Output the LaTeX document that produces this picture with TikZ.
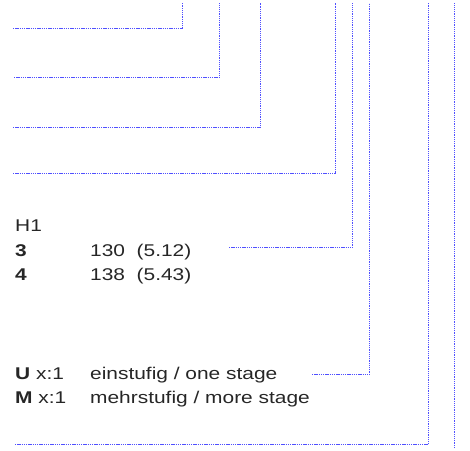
\documentclass[tikz,border=0pt]{standalone}
\usepackage{fontspec}
\setmainfont{Liberation Sans}[FakeStretch=1.23]
\begin{document}
\begin{tikzpicture}[x=1pt,y=-1pt,
  lead/.style={draw={rgb,255:red,80;green,80;blue,255}, line width=1.1pt, dash pattern=on 1.3pt off 0.9pt},
  lbl/.style={anchor=base west, inner sep=0pt, font=\fontsize{17}{20}\selectfont, text=black!85}]
\useasboundingbox (0,0) rectangle (470,450);
% texts
\node[lbl] (h1) at (15,231.5) {H1};
\node[lbl] (n3) at (15,256) {\textbf{3}};
\node[lbl] (v3) at (90,256) {130\ \ (5.12)};
\node[lbl] (n4) at (15,280.5) {\textbf{4}};
\node[lbl] (v4) at (90,280.5) {138\ \ (5.43)};
\node[lbl] (u) at (15,379) {\textbf{U} x:1};
\node[lbl] (ut) at (90,379) {einstufig / one stage};
\node[lbl] (m) at (15,403) {\textbf{M} x:1};
\node[lbl] (mt) at (90,403) {mehrstufig / more stage};
% coordinates
\coordinate (a1) at (13,28.5);  \coordinate (b1) at (182.5,28.5); \coordinate (c1) at (182.5,3);
\coordinate (a2) at (14,77.5);  \coordinate (b2) at (219.5,77.5); \coordinate (c2) at (219.5,3);
\coordinate (a3) at (13,127.5); \coordinate (b3) at (260.5,127.5);\coordinate (c3) at (260.5,3);
\coordinate (a4) at (13,173.5); \coordinate (b4) at (335.5,173.5);\coordinate (c4) at (335.5,3);
\coordinate (a5) at (229,247.5);\coordinate (b5) at (352.5,247.5);\coordinate (c5) at (352.5,3);
\coordinate (a6) at (312,374.5);\coordinate (b6) at (369.5,374.5);\coordinate (c6) at (369.5,3);
\coordinate (a7) at (15,444.5); \coordinate (b7) at (428.5,444.5);\coordinate (c7) at (428.5,3);
\coordinate (a8) at (454.5,448); \coordinate (c8) at (454.5,3);
% leader lines
\draw[lead] (a1) -- (b1) -- (c1);
\draw[lead] (a2) -- (b2) -- (c2);
\draw[lead] (a3) -- (b3) -- (c3);
\draw[lead] (a4) -- (b4) -- (c4);
\draw[lead] (a5) -- (b5) -- (c5);
\draw[lead] (a6) -- (b6) -- (c6);
\draw[lead] (a7) -- (b7) -- (c7);
\draw[lead] (a8) -- (c8);
\end{tikzpicture}
\end{document}
